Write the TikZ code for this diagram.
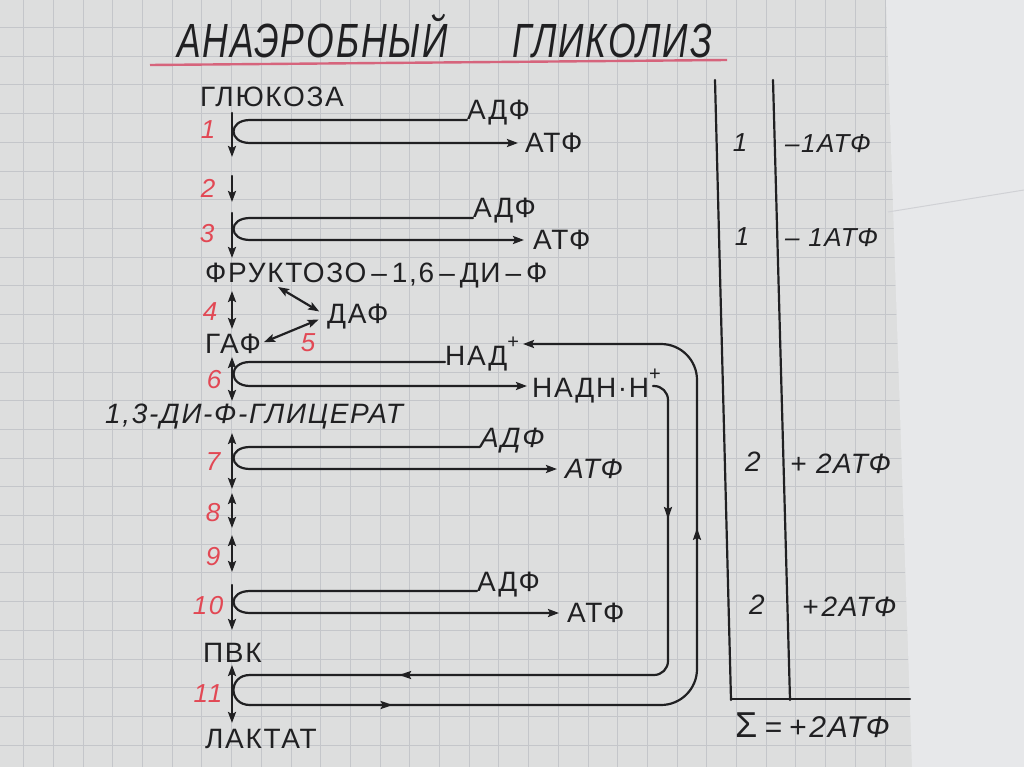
\documentclass[tikz,border=0pt]{standalone}
\usepackage{fontspec}
\usetikzlibrary{arrows.meta,decorations.markings}
\newfontfamily\hand[LetterSpace=6]{Liberation Sans}
\newfontfamily\titlef[FakeStretch=0.74,LetterSpace=4]{Liberation Sans}
\definecolor{paper}{RGB}{221,222,222}
\definecolor{sheet}{RGB}{231,232,234}
\definecolor{gridc}{RGB}{196,198,202}
\definecolor{inkc}{RGB}{32,32,34}
\definecolor{redc}{RGB}{226,72,84}
\definecolor{redline}{RGB}{214,100,124}
\newcommand{\supplus}{\raisebox{17pt}{\fontsize{20}{20}\selectfont +}}
\begin{document}
\begin{tikzpicture}[x=1pt,y=-1pt,
  ink/.style={draw=inkc,line width=2.2pt,line cap=round,line join=round},
  tip/.style={-{Stealth[length=11pt,width=8pt,inset=2pt]}},
  both/.style={{Stealth[length=11pt,width=8pt,inset=2pt]}-{Stealth[length=11pt,width=8pt,inset=2pt]}},
  lbl/.style={text=inkc,font=\hand\fontsize{28}{30}\selectfont,inner sep=0pt},
  ilbl/.style={text=inkc,font=\hand\itshape\fontsize{28}{30}\selectfont,inner sep=0pt},
  tlbl/.style={text=inkc,font=\hand\itshape\fontsize{26}{28}\selectfont,inner sep=0pt},
  tlblb/.style={text=inkc,font=\hand\itshape\fontsize{28}{30}\selectfont,inner sep=0pt},
  num/.style={text=redc,font=\hand\itshape\fontsize{26}{28}\selectfont,inner sep=0pt},
  titlelbl/.style={text=inkc,font=\titlef\itshape\fontsize{48}{50}\selectfont,inner sep=0pt},
  twoarrows/.style n args={2}{postaction={decorate},decoration={markings,
    mark=at position #1 with {\arrow{Stealth[length=12pt,width=8pt,inset=2pt]}},
    mark=at position #2 with {\arrow{Stealth[length=12pt,width=8pt,inset=2pt]}}}}
]
\useasboundingbox (0,0) rectangle (1024,767);
% paper
\fill[paper] (0,0) rectangle (1024,767);
\begin{scope}
  \clip (0,0) -- (886,0) -- (912,767) -- (0,767) -- cycle;
  \foreach \i in {0,...,31} {\draw[gridc,line width=1pt] ({-6+29.7*\i},0) -- ({-6+29.7*\i},767);}
  \foreach \j in {0,...,27} {\draw[gridc,line width=1pt] (0,{-1.1+28.7*\j}) -- (1024,{-1.1+28.7*\j});}
\end{scope}
\fill[sheet] (886,0) -- (1024,0) -- (1024,767) -- (912,767) -- cycle;
\draw[gridc!80!white,line width=1pt] (888,212) -- (1024,190);

% title
\node[titlelbl,anchor=base west] (title1) at (177,58) {АНАЭРОБНЫЙ};
\node[titlelbl,anchor=base west] (title2) at (512,58) {ГЛИКОЛИЗ};
\draw[redline,line width=2.4pt] (150,65) -- (727,60);

% main chain labels
\node[lbl,anchor=base west] (glu) at (200,107) {ГЛЮКОЗА};
\node[lbl,anchor=base west] (fru) at (205,282) {ФРУКТОЗО\hspace{5pt}–\hspace{5pt}1,6\hspace{5pt}–\hspace{5pt}ДИ\hspace{5pt}–\hspace{5pt}Ф};
\node[lbl,anchor=base west] (daf) at (327,323) {ДАФ};
\node[lbl,anchor=base west] (gaf) at (205,353) {ГАФ};
\node[ilbl,anchor=base west] (glic) at (105,423) {1,3-ДИ-Ф-ГЛИЦЕРАТ};
\node[lbl,anchor=base west] (pvk) at (203,662) {ПВК};
\node[lbl,anchor=base west] (lak) at (205,748) {ЛАКТАТ};

% side products
\node[lbl,anchor=base west] (adf1) at (467,120) {АДФ};
\node[lbl,anchor=west] (atf1) at (525,143) {АТФ};
\node[lbl,anchor=base west] (adf3) at (473,218) {АДФ};
\node[lbl,anchor=west] (atf3) at (533,240) {АТФ};
\node[lbl,anchor=base west] (nad) at (445,365) {НАД\supplus};
\node[lbl,anchor=base west] (nadh) at (532,397) {НАДН·Н\supplus};
\node[ilbl,anchor=base west] (adf7) at (480,447) {АДФ};
\node[ilbl,anchor=west] (atf7) at (565,469) {АТФ};
\node[lbl,anchor=base west] (adf10) at (477,591) {АДФ};
\node[lbl,anchor=west] (atf10) at (567,613) {АТФ};

% red step numbers
\node[num] (n1) at (208,130) {1};
\node[num] (n2) at (208,188) {2};
\node[num] (n3) at (207,234) {3};
\node[num] (n4) at (210,312) {4};
\node[num] (n5) at (308,343) {5};
\node[num] (n6) at (214,380) {6};
\node[num] (n7) at (213,462) {7};
\node[num] (n8) at (213,513) {8};
\node[num] (n9) at (213,557) {9};
\node[num] (n10) at (208,606) {10};
\node[num] (n11) at (208,694) {11};

% axis coordinates
\coordinate (a1t) at (232,113); \coordinate (a1b) at (232,157);
\coordinate (a2t) at (232,176); \coordinate (a2b) at (232,202);
\coordinate (a3t) at (232,213); \coordinate (a3b) at (232,258);
\coordinate (a4t) at (232,291); \coordinate (a4b) at (232,329);
\coordinate (a6t) at (232,357); \coordinate (a6b) at (232,401);
\coordinate (a7t) at (232,433); \coordinate (a7b) at (232,489);
\coordinate (a8t) at (232,493); \coordinate (a8b) at (232,528);
\coordinate (a9t) at (232,535); \coordinate (a9b) at (232,572);
\coordinate (a10t) at (232,585); \coordinate (a10b) at (232,630);
\coordinate (a11t) at (232,665); \coordinate (a11b) at (232,723);

\draw[ink,tip] (a1t) -- (a1b);
\draw[ink,tip] (a2t) -- (a2b);
\draw[ink,tip] (a3t) -- (a3b);
\draw[ink,both] (a4t) -- (a4b);
\draw[ink,both] (a6t) -- (a6b);
\draw[ink,both] (a7t) -- (a7b);
\draw[ink,both] (a8t) -- (a8b);
\draw[ink,both] (a9t) -- (a9b);
\draw[ink,tip] (a10t) -- (a10b);
\draw[ink,both] (a11t) -- (a11b);

% DAF side arrows
\coordinate (fruK) at (278,287);
\draw[ink,both,shorten >=9pt] (fruK) -- (daf.west);
\draw[ink,both,shorten <=9pt,shorten >=3pt] (daf.west) -- (gaf.east);

% ATP / ADP loops
\coordinate (nadhL) at (527,386);
\draw[ink,tip,shorten >=7pt] (adf1.base west) -- (250,120) .. controls (228,120) and (228,143) .. (250,143) -- (atf1.west);
\draw[ink,tip,shorten >=9pt] (adf3.base west) -- (250,218) .. controls (228,218) and (228,240) .. (250,240) -- (atf3.west);
\draw[ink,tip] ([yshift=3pt]nad.base west) -- (250,362) .. controls (228,362) and (228,386) .. (250,386) -- (nadhL);
\draw[ink,tip,shorten >=8pt] (adf7.base west) -- (250,447) .. controls (228,447) and (228,469) .. (250,469) -- (atf7.west);
\draw[ink,tip,shorten >=8pt] (adf10.base west) -- (250,591) .. controls (228,591) and (228,613) .. (250,613) -- (atf10.west);

% NAD regeneration loop through lactate step
\coordinate (nadhR) at (653,386);
\coordinate (nadR) at (523,344);
\draw[ink,rounded corners=14pt,twoarrows={0.2}{0.79}] (nadhR) -- (668,386) -- (668,675) -- (250,675);
\draw[ink] (250,675) .. controls (228,675) and (228,705) .. (250,705);
\draw[ink,tip,rounded corners=36pt,twoarrows={0.15}{0.64}] (250,705) -- (697,705) -- (697,344) -- (nadR);

% balance table
\draw[ink] (715,80) -- (731,700);
\draw[ink] (773,80) -- (790,700);
\draw[ink] (731,699) -- (910,699);
\node[tlbl] (c1) at (740,143) {1};
\node[tlbl,anchor=base west] (r1) at (785,153) {–1АТФ};
\node[tlbl] (c2) at (742,237) {1};
\node[tlbl,anchor=base west] (r2) at (785,247) {– 1АТФ};
\node[tlblb] (c3) at (753,462) {2};
\node[tlblb,anchor=base west] (r3) at (790,473) {+ 2АТФ};
\node[tlblb] (c4) at (757,605) {2};
\node[tlblb,anchor=base west] (r4) at (802,616) {+\hspace{3pt}2АТФ};
\node[tlblb,anchor=base west,font=\hand\itshape\fontsize{30}{32}\selectfont] (sum) at (735,737) {{\upshape\fontsize{36}{36}\selectfont Σ}\hspace{7pt}=\hspace{7pt}+\hspace{3pt}2АТФ};
\end{tikzpicture}
\end{document}
